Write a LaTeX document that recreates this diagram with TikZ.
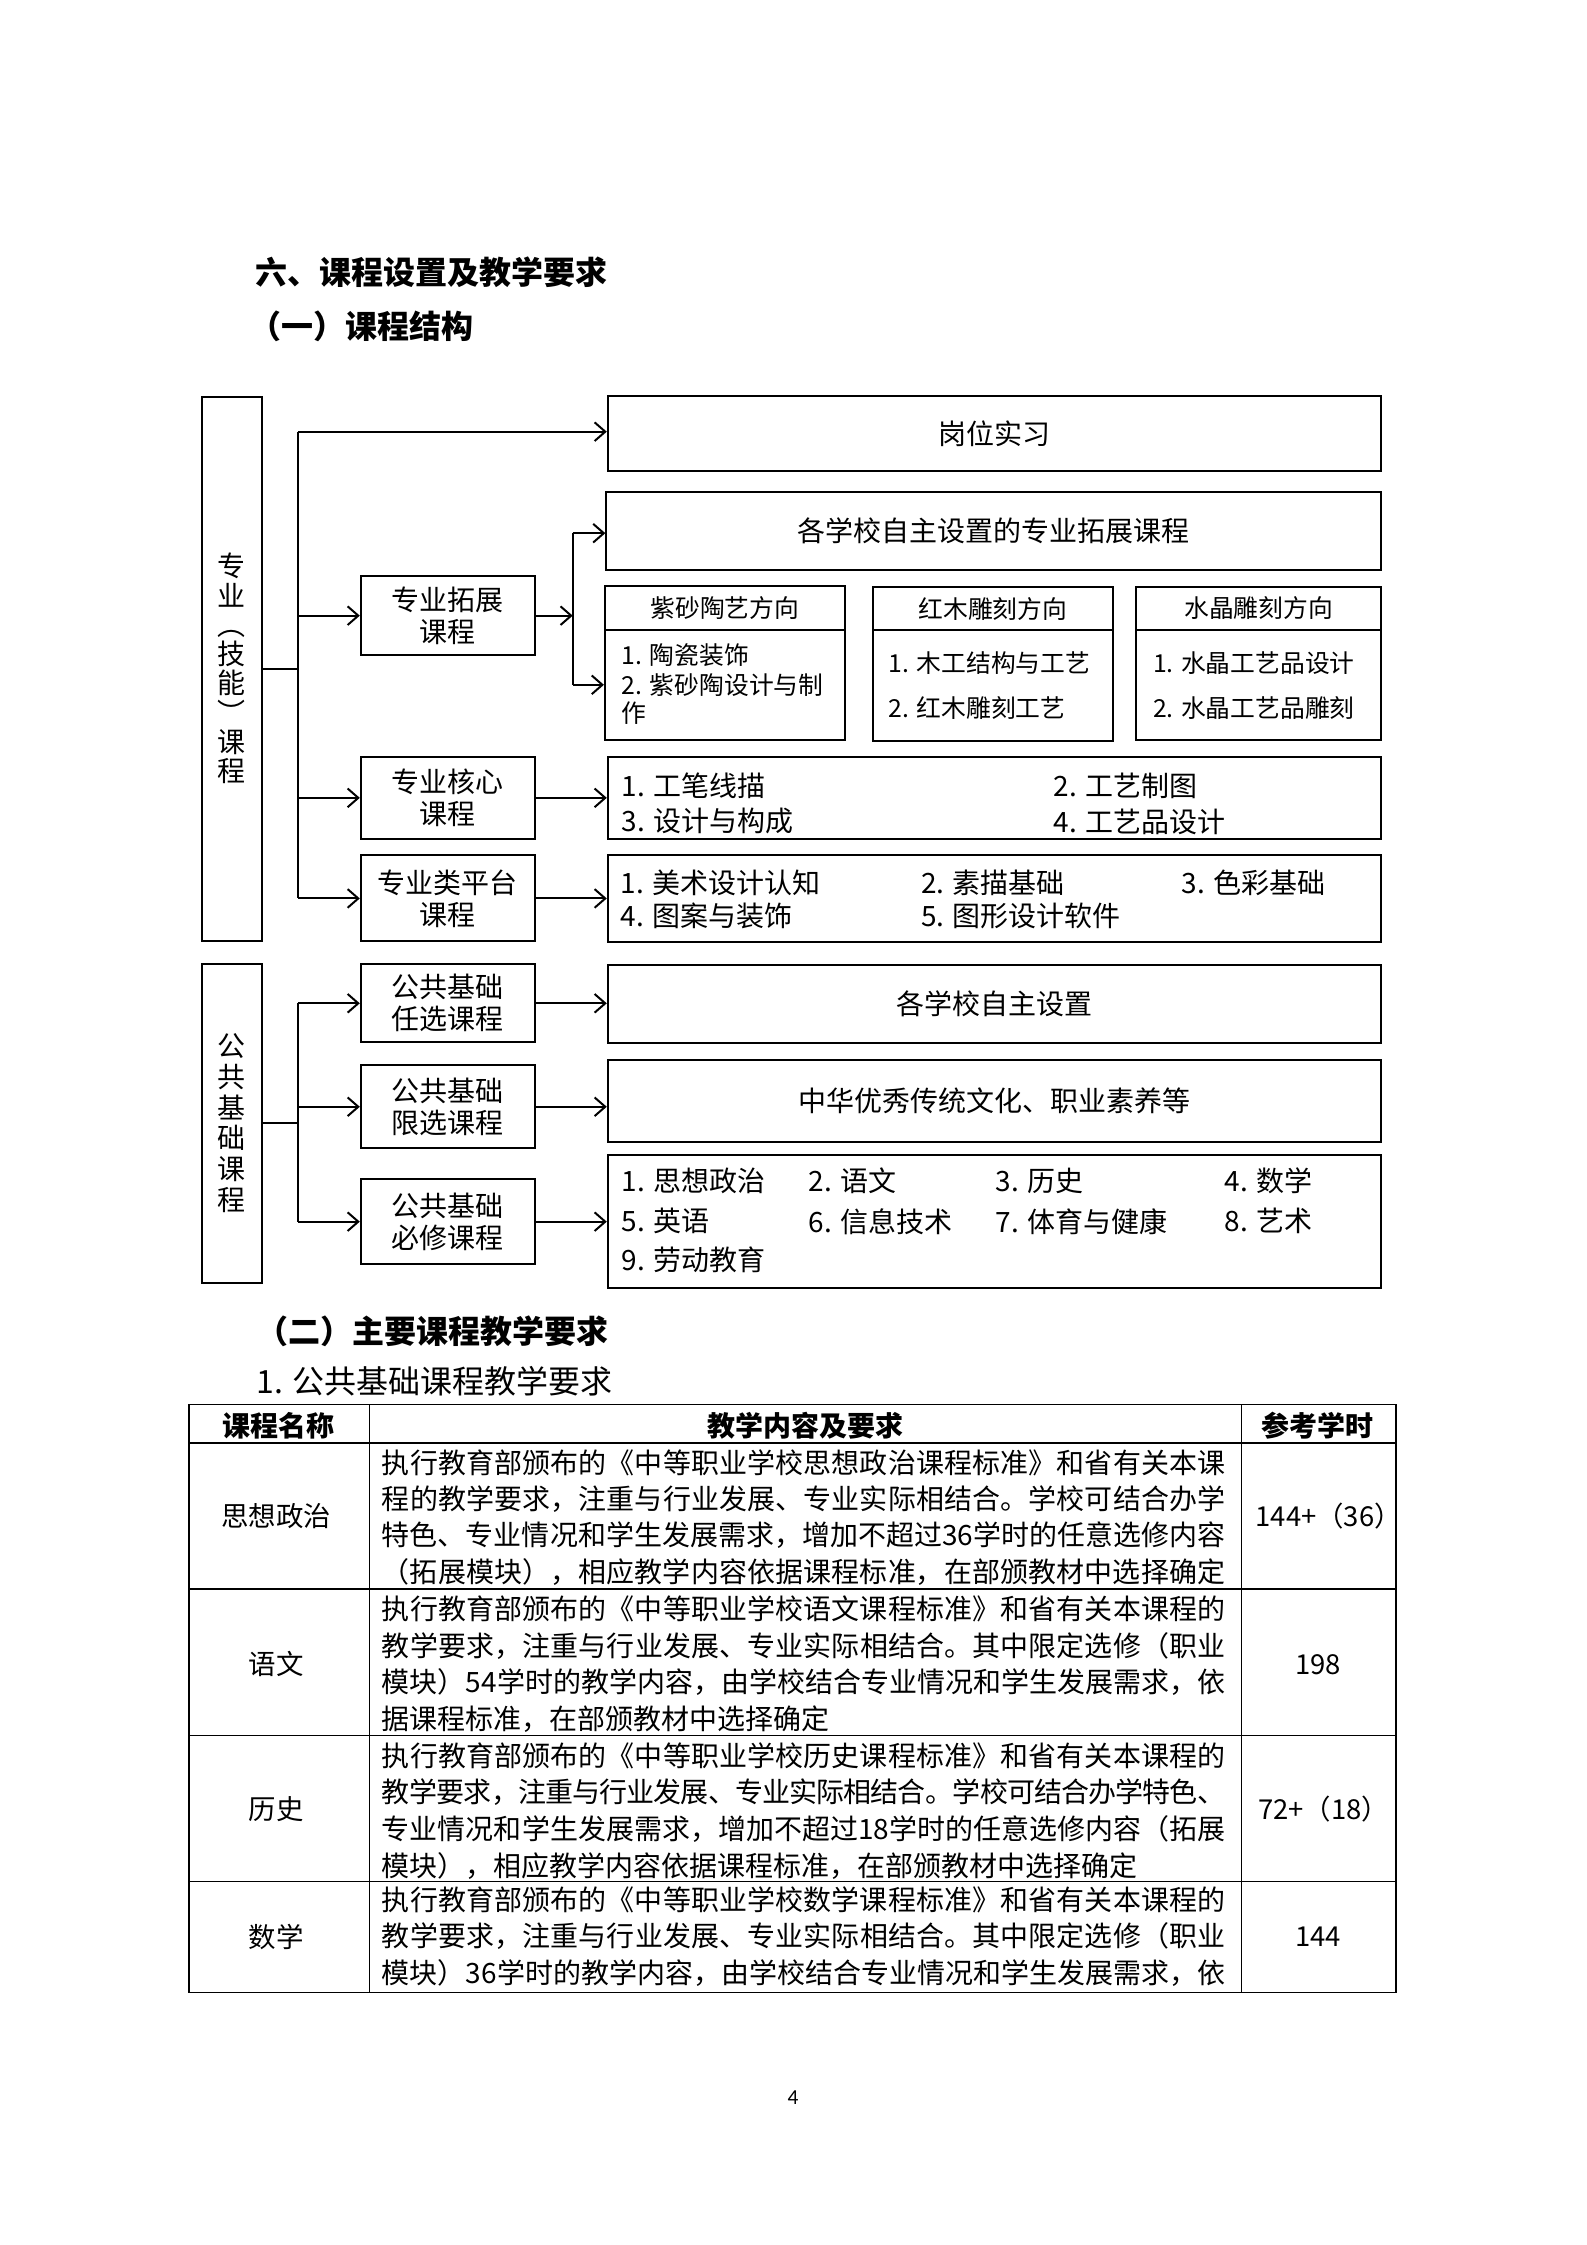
\documentclass[tikz,border=0pt]{standalone}
\usepackage{fontspec}
\setmainfont{Noto Sans CJK SC}
\newfontfamily\pgnum{Carlito}
\usetikzlibrary{arrows.meta}
\XeTeXlinebreaklocale "zh"
\XeTeXlinebreakskip=0pt plus 3pt minus 0.6pt
\newlength\tw
\setlength\tw{316.5pt}
\newcommand\jl[1]{\parbox{\tw}{\parindent=0pt\parfillskip=0pt\relax #1}}
\def\uu{0.53726pt}
\tikzset{
  bx/.style={draw, line width=0.75pt, inner sep=0pt, align=center, font=\fontsize{10.5}{12}\selectfont},
  vt/.style={bx, font=\fontsize{10.5}{11}\selectfont},
  ar/.style={line width=0.75pt, -{Straight Barb[length=4pt,width=7pt]}},
  ln/.style={line width=0.75pt},
  it/.style={inner sep=0pt, anchor=west, font=\fontsize{10.5}{12}\selectfont},
  dit/.style={inner sep=0pt, anchor=west, font=\fontsize{9.3}{11}\selectfont},
  dh/.style={bx, font=\fontsize{9.3}{11}\selectfont},
  hd/.style={inner sep=0pt, anchor=west, font=\fontsize{12}{14}\selectfont\bfseries},
  tl/.style={line width=0.6pt},
  tt/.style={inner sep=0pt, anchor=west, font=\fontsize{10.5}{12}\selectfont},
  tc/.style={inner sep=0pt, font=\fontsize{10.3}{12}\selectfont},
  th/.style={inner sep=0pt, font=\fontsize{10.5}{12}\selectfont\bfseries},
}
\begin{document}
\begin{tikzpicture}[x=0.53726pt,y=-0.53726pt]
\useasboundingbox[fill=white] (0,0) rectangle (1108,1568);

% headings
\node[hd] (h1) at (178,190) {六、课程设置及教学要求};
\node[hd] (h2) at (174,228) {（一）课程结构};

% left boxes
\node[vt, minimum width=42*\uu, minimum height=380*\uu] (LA) at (162,467) {专\\业\\︵\\技\\能\\︶\\课\\程};
\node[vt, font=\fontsize{10.5}{11.5}\selectfont, minimum width=42*\uu, minimum height=223*\uu] (LB) at (162,784.5) {公\\共\\基\\础\\课\\程};

% middle boxes
\node[bx, minimum width=121.5*\uu, minimum height=55*\uu] (kz) at (312.75,430) {专业拓展\\课程};
\node[bx, minimum width=121.5*\uu, minimum height=57.5*\uu] (hx) at (312.75,557.25) {专业核心\\课程};
\node[bx, minimum width=121.5*\uu, minimum height=60*\uu] (pt) at (312.75,627.5) {专业类平台\\课程};
\node[bx, minimum width=121.5*\uu, minimum height=54.5*\uu] (rx) at (312.75,700.75) {公共基础\\任选课程};
\node[bx, minimum width=121.5*\uu, minimum height=58*\uu] (xx) at (312.75,773) {公共基础\\限选课程};
\node[bx, minimum width=121.5*\uu, minimum height=59.5*\uu] (bxm) at (312.75,853.25) {公共基础\\必修课程};

% right boxes
\node[bx, minimum width=540*\uu, minimum height=52.5*\uu] (gw) at (694.5,302.75) {岗位实习};
\node[bx, minimum width=541*\uu, minimum height=54.5*\uu] (zt) at (694,370.75) {各学校自主设置的专业拓展课程};
\node[bx, minimum width=540*\uu, minimum height=57.5*\uu] (hxc) at (694.5,557.25) {};
\node[bx, minimum width=540*\uu, minimum height=60.5*\uu] (ptc) at (694.5,627.75) {};
\node[bx, minimum width=540*\uu, minimum height=54.5*\uu] (rxc) at (694.5,701.25) {各学校自主设置};
\node[bx, minimum width=540*\uu, minimum height=57*\uu] (xxc) at (694.5,769) {中华优秀传统文化、职业素养等};
\node[bx, minimum width=540*\uu, minimum height=93*\uu] (bxc) at (694.5,853) {};

% direction boxes
\node[dh, minimum width=167.7*\uu, minimum height=30.4*\uu] (zsH) at (506.35,424.8) {紫砂陶艺方向};
\node[bx, minimum width=167.7*\uu, minimum height=76.7*\uu] (zsB) at (506.35,478.35) {};
\node[dh, minimum width=167.5*\uu, minimum height=30.3*\uu] (hmH) at (693.45,425.15) {红木雕刻方向};
\node[bx, minimum width=167.5*\uu, minimum height=77.1*\uu] (hmB) at (693.45,478.85) {};
\node[dh, minimum width=170.8*\uu, minimum height=30*\uu] (sjH) at (879.1,425) {水晶雕刻方向};
\node[bx, minimum width=170.8*\uu, minimum height=76.8*\uu] (sjB) at (879.1,478.4) {};

\node[dit] (zs1) at (434,457.3) {1. 陶瓷装饰};
\node[dit] (zs2) at (434,478.3) {2. 紫砂陶设计与制};
\node[dit] (zs3) at (434,498) {作};
\node[dit] (hm1) at (620.4,463.1) {1. 木工结构与工艺};
\node[dit] (hm2) at (620.4,494.6) {2. 红木雕刻工艺};
\node[dit] (sj1) at (805,463.1) {1. 水晶工艺品设计};
\node[dit] (sj2) at (805,494.6) {2. 水晶工艺品雕刻};

% core / platform items
\node[it] (c1) at (434,549) {1. 工笔线描};
\node[it] (c2) at (735.7,549) {2. 工艺制图};
\node[it] (c3) at (434,573.7) {3. 设计与构成};
\node[it] (c4) at (735.7,573.7) {4. 工艺品设计};
\node[it] (p1) at (433,616.6) {1. 美术设计认知};
\node[it] (p2) at (643,616.6) {2. 素描基础};
\node[it] (p3) at (825,616.6) {3. 色彩基础};
\node[it] (p4) at (433,640) {4. 图案与装饰};
\node[it] (p5) at (643,640) {5. 图形设计软件};

% required items
\node[it] (b1) at (434,825) {1. 思想政治};
\node[it] (b2) at (564.6,825) {2. 语文};
\node[it] (b3) at (695,825) {3. 历史};
\node[it] (b4) at (855,825) {4. 数学};
\node[it] (b5) at (434,853) {5. 英语};
\node[it] (b6) at (564.6,853) {6. 信息技术};
\node[it] (b7) at (695,853) {7. 体育与健康};
\node[it] (b8) at (855,853) {8. 艺术};
\node[it] (b9) at (434,879.7) {9. 劳动教育};

% connectors
\coordinate (a0) at (208,467);
\coordinate (a1) at (208,301.5);
\coordinate (a2) at (208,430);
\coordinate (a3) at (208,557.25);
\coordinate (a4) at (208,627.5);
\draw[ln] (LA.east) -- (a0);
\draw[ln] (a1) -- (a4);
\draw[ar] (a1) -- (a1 -| gw.west);
\draw[ar] (a2) -- (kz.west);
\draw[ar] (a3) -- (hx.west);
\draw[ar] (a4) -- (pt.west);

\coordinate (b0) at (208,784.5);
\coordinate (bt1) at (208,700.75);
\coordinate (bt2) at (208,773);
\coordinate (bt3) at (208,853.25);
\draw[ln] (LB.east) -- (b0);
\draw[ln] (bt1) -- (bt3);
\draw[ar] (bt1) -- (rx.west);
\draw[ar] (bt2) -- (xx.west);
\draw[ar] (bt3) -- (bxm.west);

\coordinate (s0) at (400,430);
\coordinate (s1) at (400,372.4);
\coordinate (s2) at (400,478.3);
\draw[ar] (kz.east) -- (s0);
\draw[ln] (s1) -- (s2);
\draw[ar] (s1) -- (s1 -| zt.west);
\draw[ar] (s2) -- (s2 -| zsB.west);
\draw[ar] (hx.east) -- (hx.east -| hxc.west);
\draw[ar] (pt.east) -- (pt.east -| ptc.west);
\draw[ar] (rx.east) -- (rx.east -| rxc.west);
\draw[ar] (xx.east) -- (xx.east -| xxc.west);
\draw[ar] (bxm.east) -- (bxm.east -| bxc.west);

% second part headings
\node[hd] (h3) at (179,929.7) {（二）主要课程教学要求};
\node[inner sep=0pt, anchor=west, font=\fontsize{12}{14}\selectfont] (h4) at (179,964.7) {1. 公共基础课程教学要求};

% table grid
\draw[tl] (132,981) rectangle (975,1391.5);
\draw[tl] (132,1008) -- (975,1008);
\draw[tl] (132,1109.6) -- (975,1109.6);
\draw[tl] (132,1212) -- (975,1212);
\draw[tl] (132,1314) -- (975,1314);
\draw[tl] (258,981) -- (258,1391.5);
\draw[tl] (867,981) -- (867,1391.5);

\node[th] (th1) at (194.6,996) {课程名称};
\node[th] (th2) at (562.5,996) {教学内容及要求};
\node[th] (th3) at (920.5,996) {参考学时};

\node[tc] (n1) at (193,1059) {思想政治};
\node[tc] (n2) at (193,1162.5) {语文};
\node[tc] (n3) at (193,1263.7) {历史};
\node[tc] (n4) at (193,1353) {数学};
\node[tc] (r1) at (928,1059) {144+（36）};
\node[tc] (r2) at (920.5,1162.5) {198};
\node[tc] (r3) at (924.5,1263.7) {72+（18）};
\node[tc] (r4) at (920.5,1353) {144};

\node[tt] (t11) at (266.4,1021.5) {\jl{执行教育部颁布的《中等职业学校思想政治课程标准》和省有关本课}};
\node[tt] (t12) at (266.4,1047) {\jl{程的教学要求，注重与行业发展、专业实际相结合。学校可结合办学}};
\node[tt] (t13) at (266.4,1072.5) {\jl{特色、专业情况和学生发展需求，增加不超过36学时的任意选修内容}};
\node[tt] (t14) at (266.4,1098) {\jl{（拓展模块），相应教学内容依据课程标准，在部颁教材中选择确定}};

\node[tt] (t21) at (266.4,1124) {\jl{执行教育部颁布的《中等职业学校语文课程标准》和省有关本课程的}};
\node[tt] (t22) at (266.4,1149.5) {\jl{教学要求，注重与行业发展、专业实际相结合。其中限定选修（职业}};
\node[tt] (t23) at (266.4,1175) {\jl{模块）54学时的教学内容，由学校结合专业情况和学生发展需求，依}};
\node[tt] (t24) at (266.4,1200.5) {据课程标准，在部颁教材中选择确定};

\node[tt] (t31) at (266.4,1226.5) {\jl{执行教育部颁布的《中等职业学校历史课程标准》和省有关本课程的}};
\node[tt] (t32) at (266.4,1252) {\jl{教学要求，注重与行业发展、专业实际相结合。学校可结合办学特色、}};
\node[tt] (t33) at (266.4,1277.5) {\jl{专业情况和学生发展需求，增加不超过18学时的任意选修内容（拓展}};
\node[tt] (t34) at (266.4,1303) {模块），相应教学内容依据课程标准，在部颁教材中选择确定};

\node[tt] (t41) at (266.4,1327) {\jl{执行教育部颁布的《中等职业学校数学课程标准》和省有关本课程的}};
\node[tt] (t42) at (266.4,1352.5) {\jl{教学要求，注重与行业发展、专业实际相结合。其中限定选修（职业}};
\node[tt] (t43) at (266.4,1378) {\jl{模块）36学时的教学内容，由学校结合专业情况和学生发展需求，依}};

\node[inner sep=0pt, font=\pgnum\fontsize{8}{9}\selectfont] (pg) at (553.8,1465) {4};
\end{tikzpicture}
\end{document}
